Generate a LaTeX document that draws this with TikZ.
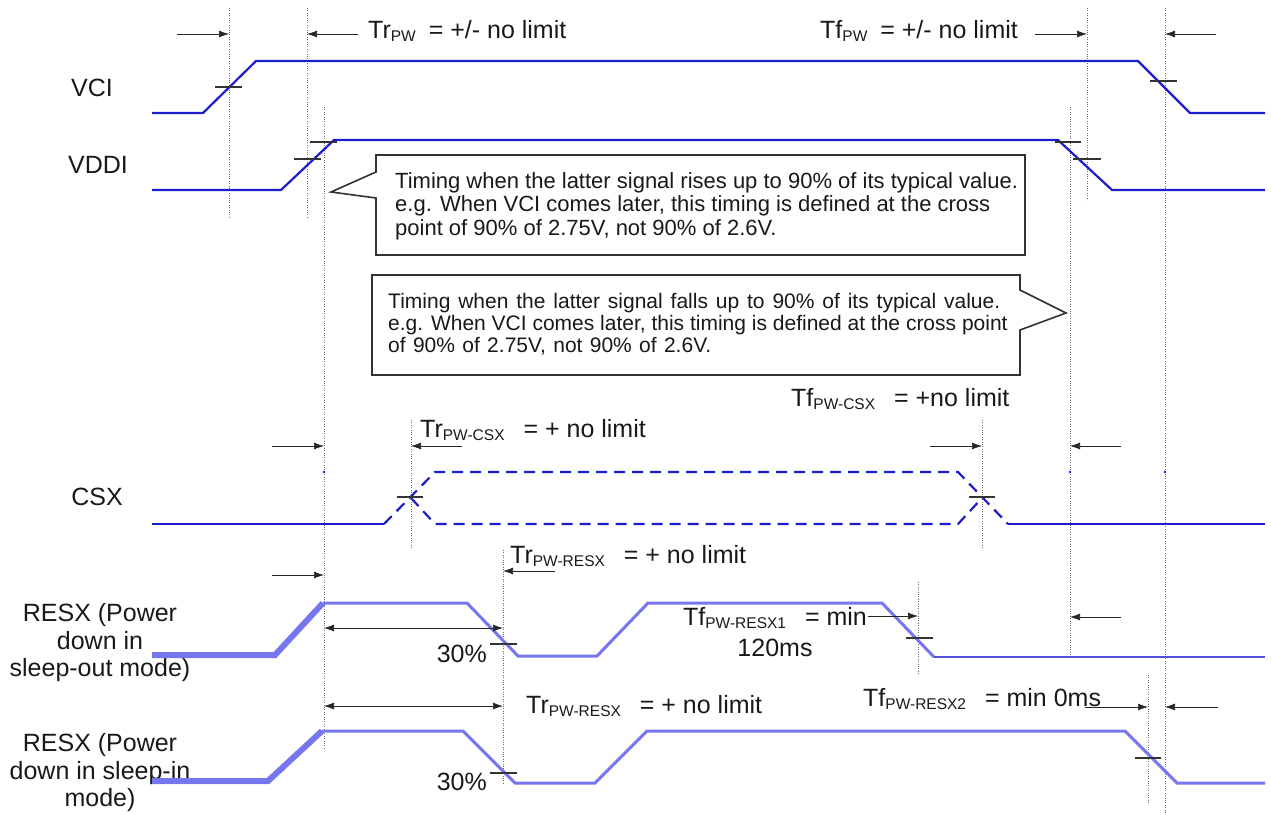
\documentclass[tikz,border=0pt]{standalone}
\usepackage{fontspec}
\setmainfont{Liberation Sans}
\usetikzlibrary{arrows.meta}

\definecolor{sigblue}{RGB}{28,28,205}
\definecolor{resxblue}{RGB}{118,118,238}
\definecolor{resxdark}{RGB}{80,80,220}
\definecolor{guidegray}{RGB}{110,110,110}

% small lowered subscript for the timing names
\newcommand{\tsub}[1]{\raisebox{-3.5pt}{\fontsize{15.5}{16}\selectfont #1}}

\tikzset{
  sig/.style={sigblue, line width=2.2pt},
  sigdash/.style={sig, dash pattern=on 11pt off 7pt},
  resx/.style={resxblue, line width=3pt},
  resxthick/.style={resxblue, line width=6pt},
  guide/.style={guidegray, line width=0.7pt, dash pattern=on 1pt off 1.4pt},
  crossdash/.style={black!80, line width=1.2pt},
  dim/.style={black!85, line width=0.7pt, -{Latex[length=10pt,width=7pt]}},
  dimboth/.style={black!85, line width=0.7pt, {Latex[length=10pt,width=7pt]}-{Latex[length=10pt,width=7pt]}},
  sglabel/.style={font=\fontsize{25}{27.5}\selectfont, align=center, inner sep=0pt, text=black!90},
  tlabel/.style={font=\fontsize{25}{31}\selectfont, inner sep=0pt, anchor=base west, text=black!90},
  callout/.style={black!80, line width=1.6pt, fill=white},
  note/.style={font=\fontsize{22}{23.3}\selectfont, align=left, inner sep=0pt, anchor=base west, text=black!90}
}

\begin{document}
\begin{tikzpicture}[x=1pt,y=-1pt]
    \path[use as bounding box] (0,0) rectangle (1271,814);

    % dotted guide lines
    \foreach \g/\x/\ya/\yb in {g1/229/8/217, g2/307/8/217, g3/324/107/748, g4/1087/8/200,
        g5/1165/8/814, g6/1070/107/657, g7/411/420/548, g8/982/420/548,
        g9/503/550/785, g10/918/582/675, g11/1148/675/803}{
      \coordinate (\g-t) at (\x,\ya);
      \coordinate (\g-b) at (\x,\yb);
      \draw[guide] (\g-t) -- (\g-b);
    }

    % callouts (base anchor sits on the last line)
    \draw[callout] (376,155) -- (1025,155) -- (1025,255) -- (376,255) -- (376,198) -- (331,192) -- (376,172) -- cycle;
    \node[note] (riseNote) at (395,235) {Timing when the latter signal rises up to 90\% of its typical value.\\
      e.g. When VCI comes later, this timing is defined at the cross\\
      point of 90\% of 2.75V, not 90\% of 2.6V.};
    \draw[callout] (372,275) -- (1020,275) -- (1020,290) -- (1066,313) -- (1020,330) -- (1020,375) -- (372,375) -- cycle;
    \node[note, font=\fontsize{21}{22}\selectfont] (fallNote) at (388,352) {\makebox[612pt][s]{Timing when the latter signal falls up to 90\% of its typical value.}\\
      e.g. When VCI comes later, this timing is defined at the cross point\\
      \makebox[323pt][s]{of 90\% of 2.75V, not 90\% of 2.6V.}};

    % signal names
    \node[sglabel] (vciLbl) at (92,88) {VCI};
    \node[sglabel] (vddiLbl) at (98,165) {VDDI};
    \node[sglabel] (csxLbl) at (97,497) {CSX};
    \node[sglabel] (resxOutLbl) at (100,643) {RESX (Power\\down in\\sleep-out mode)};
    \node[sglabel] (resxInLbl) at (100,773) {RESX (Power\\down in sleep-in\\mode)};

    % VCI and VDDI
    \draw[sig] (152,113) -- (203,113) -- (256,61) -- (1138,61) -- (1190,113) -- (1265,113);
    \draw[sig] (152,190) -- (281,190) -- (334,140) -- (1058,140) -- (1112,190) -- (1265,190);
    \draw[crossdash] (215,87) -- (242,87);
    \draw[crossdash] (1150,81) -- (1177,81);
    \draw[crossdash] (294,159) -- (321,159);
    \draw[crossdash] (310,142) -- (337,142);
    \draw[crossdash] (1055,142) -- (1081,142);
    \draw[crossdash] (1073,159) -- (1101,159);

    % CSX
    \draw[sig] (152,524) -- (384,524);
    \draw[sigdash] (384,524) -- (435,472) -- (958,472) -- (1008,524);
    \draw[sigdash] (411,498) -- (435,524) -- (958,524) -- (982,498);
    \draw[sig] (1008,524) -- (1265,524);
    \draw[crossdash] (397,497) -- (423,497);
    \draw[crossdash] (969,497) -- (995,497);
    \foreach \g in {g3,g6,g5}
      \fill[sigblue] (\g-t |- 0,472) circle (1.3pt);

    % RESX, sleep-out
    \draw[resxthick] (152,655) -- (275,655) -- (323,603);
    \draw[resx] (323,603) -- (467,603) -- (518,656) -- (597,656) -- (648,603) -- (882,603) -- (934,657);
    \draw[resxdark, line width=2.6pt] (934,657) -- (1265,657);
    \draw[crossdash] (490,644) -- (517,644);
    \draw[crossdash] (906,638) -- (933,638);

    % RESX, sleep-in
    \draw[resxthick] (152,781) -- (268,781) -- (322,731);
    \draw[resx] (322,731) -- (463,731) -- (515,783) -- (595,783) -- (647,731) -- (1125,731) -- (1177,783) -- (1265,783);
    \draw[crossdash] (490,773) -- (517,773);
    \draw[crossdash] (1135,758) -- (1161,758);

    % arrows onto the guides
    \foreach \xs/\ys/\g in {177/34/g1, 358/34/g2, 1035/34/g4, 1216/34/g5,
        272/446/g3, 462/446/g7, 930/446/g8, 1121/446/g6,
        555/571/g9, 272/575/g3, 868/616/g10, 1121/617/g6,
        1085/707/g11, 1218/707/g5}
      \draw[dim] (\xs,\ys) -- (\xs,\ys -| \g-t);
    \draw[dimboth] (g3-t |- 0,628) -- (g9-t |- 0,628);
    \draw[dimboth] (g3-t |- 0,706) -- (g9-t |- 0,706);

    % timing values
    \node[tlabel] (trPw) at (368,38) {Tr\tsub{PW}\hspace{6pt} = +/- no limit};
    \node[tlabel] (tfPw) at (820,38) {Tf\tsub{PW}\hspace{6pt} = +/- no limit};
    \node[tlabel] (trCsx) at (420,437) {Tr\tsub{PW-CSX}\hspace{12pt} = + no limit};
    \node[tlabel] (tfCsx) at (791,406) {Tf\tsub{PW-CSX}\hspace{12pt} = +no limit};
    \node[tlabel] (trResxA) at (510,563) {Tr\tsub{PW-RESX}\hspace{12pt} = + no limit};
    \node[tlabel, align=center, anchor=base] (tfResxA) at (775,656) {Tf\tsub{PW-RESX1}\hspace{12pt} = min\\120ms};
    \node[tlabel] (trResxB) at (526,713) {Tr\tsub{PW-RESX}\hspace{12pt} = + no limit};
    \node[tlabel] (tfResxB) at (863,706) {Tf\tsub{PW-RESX2}\hspace{12pt} = min 0ms};
    \node[tlabel, anchor=base east] (pctA) at (487,662) {30\%};
    \node[tlabel, anchor=base east] (pctB) at (487,790) {30\%};
\end{tikzpicture}
\end{document}
